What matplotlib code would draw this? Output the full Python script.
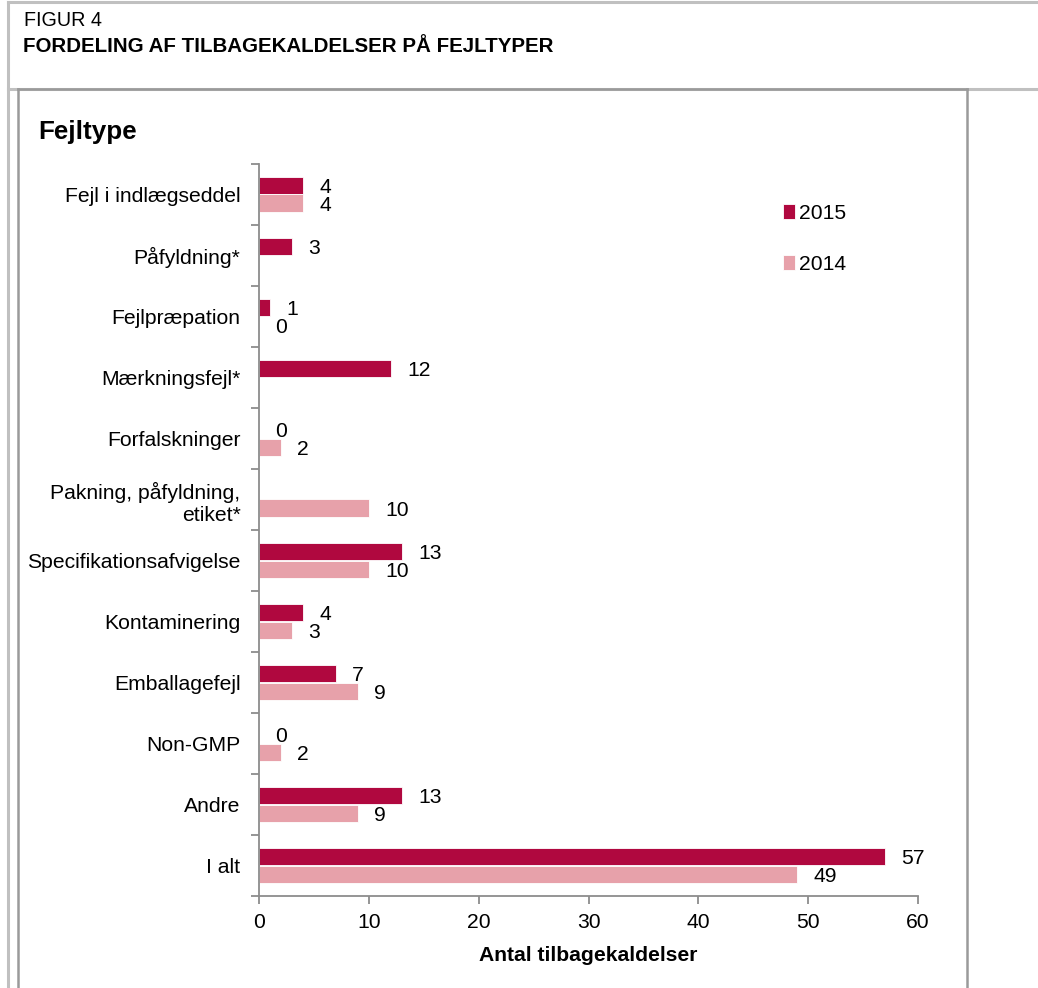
import numpy as np
import matplotlib
matplotlib.use("Agg")
import matplotlib.pyplot as plt
from matplotlib.lines import Line2D

plt.rcParams['font.family'] = ['Liberation Sans', 'DejaVu Sans']

# Data
categories = [
    'Fejl i indlægseddel', 'Påfyldning*', 'Fejlpræpation', 'Mærkningsfejl*',
    'Forfalskninger', 'Pakning, påfyldning,\netiket*', 'Specifikationsafvigelse',
    'Kontaminering', 'Emballagefejl', 'Non-GMP', 'Andre', 'I alt',
]
values_2015 = [4, 3, 1, 12, 0, None, 13, 4, 7, 0, 13, 57]
values_2014 = [4, None, 0, None, 2, 10, 10, 3, 9, 2, 9, 49]
x_ticks = [0, 10, 20, 30, 40, 50, 60]

c2015 = '#B0083F'
c2014 = '#E7A1AA'
grey = '#8C8C8C'
fs = 15.2

W, H = 1038, 988
fig = plt.figure(figsize=(W / 100, H / 100), dpi=100)


def fx(px):
    return px / W


def fy(py):
    return 1 - py / H


# frame lines around the figure
def line(x0, y0, x1, y1, color, lw=2):
    fig.add_artist(Line2D([fx(x0), fx(x1)], [fy(y0), fy(y1)], color=color, lw=lw,
                          transform=fig.transFigure))


line(8, 2, 1038, 2, '#C0C0C0', 2.2)
line(8, 2, 8, 988, '#C0C0C0', 2.2)
line(8, 89, 1038, 89, '#C0C0C0', 2.2)
line(18, 89, 967, 89, '#9A9A9A', 1.8)
line(18, 89, 18, 988, '#9A9A9A', 1.8)
line(967, 89, 967, 988, '#9A9A9A', 1.8)

fig.text(fx(24), fy(20), 'FIGUR 4', fontsize=14.2, va='center', ha='left')
fig.text(fx(23), fy(46), 'FORDELING AF TILBAGEKALDELSER PÅ FEJLTYPER', fontsize=14.8,
         fontweight='bold', va='center', ha='left')
fig.text(fx(38), fy(139.5), 'Fejltype', fontsize=18.7, fontweight='bold',
         va='baseline', ha='left')

ax = fig.add_axes([fx(259.3), fy(896), fx(918) - fx(259.3), (896 - 164) / H])

n = len(categories)
centers = np.arange(n) + 0.5
bh = 0.295

v15 = np.array([np.nan if v is None else v for v in values_2015], dtype=float)
v14 = np.array([np.nan if v is None else v for v in values_2014], dtype=float)

ax.barh(centers - bh / 2, np.nan_to_num(v15), height=bh, color=c2015,
        edgecolor='white', linewidth=0.6, label='2015')
ax.barh(centers + bh / 2, np.nan_to_num(v14), height=bh, color=c2014,
        edgecolor='white', linewidth=0.6, label='2014')

# data labels
for yc, vals in ((centers - bh / 2, v15), (centers + bh / 2, v14)):
    for y, v in zip(yc, vals):
        if np.isnan(v):
            continue
        ax.annotate(f'{int(v)}', xy=(v, y), xytext=(11.5, 0), textcoords='offset points',
                    ha='left', va='center_baseline', fontsize=fs)

ax.set_xlim(0, 60)
ax.set_ylim(n, 0)
ax.set_xticks(x_ticks)
ax.set_xticklabels([str(t) for t in x_ticks], fontsize=fs)
ax.set_yticks(np.arange(n + 1))
ax.set_yticklabels([])
ax.set_yticks(centers, minor=True)
ax.set_yticklabels(categories, minor=True, fontsize=fs)

ax.tick_params(axis='y', which='major', length=6, width=1.3, color=grey, direction='out')
ax.tick_params(axis='y', which='minor', length=0, pad=13.5)
ax.tick_params(axis='x', which='major', length=5.5, width=1.3, color=grey, pad=7)

for s in ('top', 'right'):
    ax.spines[s].set_visible(False)
for s in ('left', 'bottom'):
    ax.spines[s].set_color(grey)
    ax.spines[s].set_linewidth(1.3)

fig.text((fx(259.3) + fx(918)) / 2, fy(955), 'Antal tilbagekaldelser', fontsize=fs,
         fontweight='bold', ha='center', va='center')

leg = ax.legend(loc='upper left', bbox_to_anchor=(fx(783), fy(204)),
                bbox_transform=fig.transFigure, frameon=False, fontsize=fs,
                handlelength=0.55, handleheight=0.7, handletextpad=0.2,
                labelspacing=1.5, borderpad=0, borderaxespad=0)

fig.savefig('out.png', dpi=100)
